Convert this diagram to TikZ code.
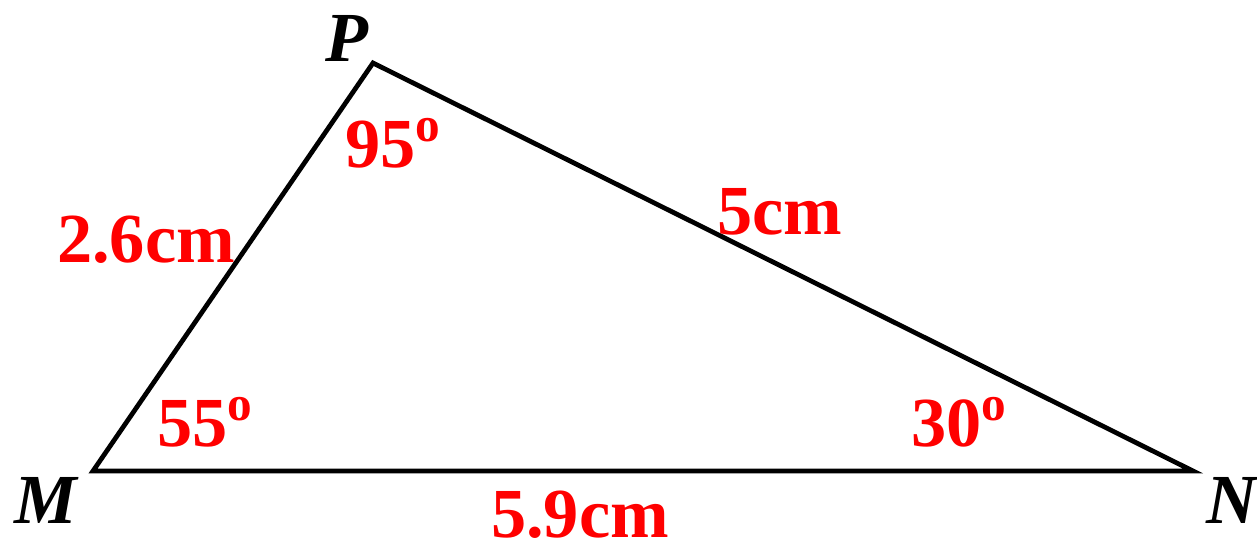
\documentclass[tikz,border=0pt]{standalone}
\usepackage{fontspec}
\setmainfont{Liberation Serif}
\usepackage{tikz}
\tikzset{epais/.style={line width=1.35pt, line join=miter}}
\newcommand{\sommet}[3]{\node[font=\fontsize{20}{24}\selectfont\bfseries\itshape] (#1) at (#2) {#3}}
\newcommand{\mesure}[3]{\node[text=red,font=\fontsize{20}{24}\selectfont\bfseries] (#1) at (#2) {#3}}
\newcommand{\degre}[0]{\textsuperscript{o}}

\begin{document}
\begin{tikzpicture}[x = 0.01cm, y = 0.01cm]
\useasboundingbox (0,0) rectangle (1257,548);
%Vertices
	\coordinate (m) at (93,77);
	\coordinate (p) at (373,485);
	\coordinate (n) at (1193,77);
%The triangle
	\draw[epais] (m) -- (p) -- (n) -- cycle;
%Names of the vertices
	\sommet{lm}{46,48}{M};
	\sommet{lp}{347,510}{P};
	\sommet{ln}{1232,48}{N};
%Angles
	\mesure{ap}{394,405}{95\degre};
	\mesure{am}{206,126}{55\degre};
	\mesure{an}{960,126}{30\degre};
%Sides
	\mesure{smp}{146,308}{2.6cm};
	\mesure{spn}{780,336}{5cm};
	\mesure{smn}{580,33}{5.9cm};
\end{tikzpicture}
\end{document}
